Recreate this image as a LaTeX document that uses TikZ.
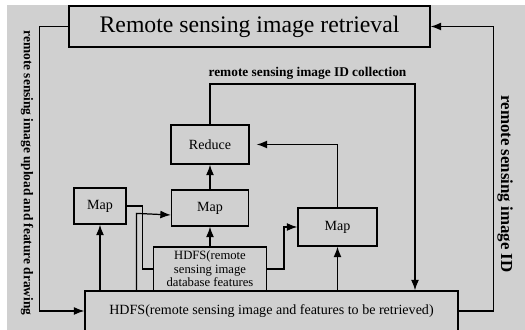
\documentclass[tikz,border=0pt]{standalone}
\usepackage{fontspec}
\setmainfont{Liberation Serif}
\usetikzlibrary{arrows.meta, calc}
\definecolor{fondo}{RGB}{208,208,208}

\begin{document}
\begin{tikzpicture}[x=0.02cm, y=-0.02cm, line width=0.7pt,
      box/.style={draw, line width=0.7pt, fill=fondo, inner sep=0pt,
                  align=center, font=\fontsize{8}{9}\selectfont},
      lbl/.style={font=\bfseries\fontsize{7.6}{9}\selectfont},
      >={Latex[length=6pt,width=4.5pt]}]
    \useasboundingbox (0,0) rectangle (525,330);
    \clip (0,0) rectangle (525,330);
    \fill[fondo] (7,5) rectangle (525,330);
    \node[box, minimum width=7.22cm, minimum height=0.82cm,
          font=\fontsize{13.5}{16}\selectfont] (retr) at (249.5,26.5)
          {Remote sensing image retrieval};
    \node[box, minimum width=1.56cm, minimum height=0.78cm] (reduce) at (210,144.5) {Reduce};
    \node[box, minimum width=1.04cm, minimum height=0.72cm] (map1) at (100,206) {Map};
    \node[box, minimum width=1.54cm, minimum height=0.72cm] (map2) at (210,208) {Map};
    \node[box, minimum width=1.58cm, minimum height=0.76cm] (map3) at (337.5,227) {Map};
    \node[box, minimum width=2.26cm, minimum height=0.88cm,
          font=\fontsize{7.2}{7.6}\selectfont] (hdfsdb) at (210,269)
          {HDFS(remote\\sensing image\\database features};
    \node[box, minimum width=7.46cm, minimum height=0.8cm] (hdfs) at (271.5,311)
          {HDFS(remote sensing image and features to be retrieved)};
    \coordinate (idturn) at (415,84);
    \node[lbl] (idcol) at (307.5,73) {remote sensing image ID collection};
    \node[lbl, rotate=-90] (upl) at (27,173) {remote sensing image upload and feature drawing};
    \node[lbl, rotate=-90, font=\bfseries\fontsize{9.6}{11}\selectfont] (idlbl) at (505,184)
          {remote sensing image ID};
    % map/reduce flow
    \draw[->] (map2.north) -- (reduce.south);
    \draw[->, shorten >=1.4mm] (map3.north) |- (reduce.east);
    \draw[->] (hdfsdb.north) -- (map2.south);
    \draw[->] (map1.south |- hdfs.north) -- (map1.south);
    \draw[->] (map3.south |- hdfs.north) -- (map3.south);
    \draw (map1.east) -- ++(16,0) |- (hdfsdb.west);
    \draw[->] ($(hdfs.north west)+(52,0)$) -- ++(0,-77) -- ($(map2.west)+(0,7)$);
    \draw[->] (hdfsdb.east) -- ++(17,0) |- (map3.west);
    \draw[->] (reduce.north) |- (idturn) -- (idturn |- hdfs.north);
    % outer loop
    \draw[->] (retr.west) -- ++(-29,0) |- (hdfs.west);
    \draw[->] (hdfs.east) -- ++(35,0) |- (retr.east);
  \end{tikzpicture}
\end{document}
